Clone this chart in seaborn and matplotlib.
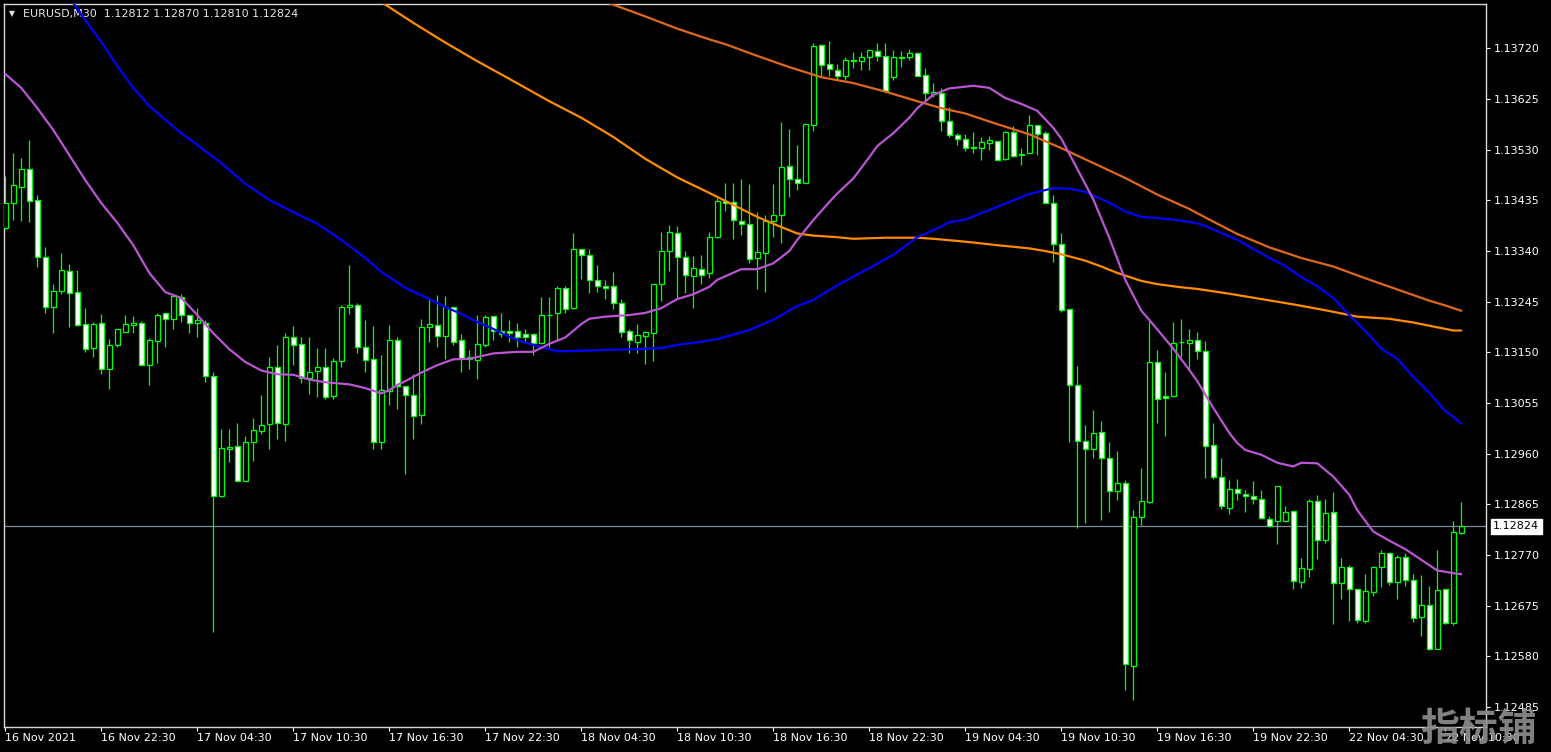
import numpy as np
import matplotlib
matplotlib.use("Agg")
import matplotlib.pyplot as plt
import matplotlib.transforms as mtransforms
import seaborn as sns

# ---------------- data ----------------
symbol = "EURUSD,M30"
header_values = "1.12812 1.12870 1.12810 1.12824"
last_price = 1.12824

open_ = [1.13384,1.13431,1.13461,1.13493,1.13435,1.13328,1.13236,1.13265,1.13302,1.13264,
         1.13203,1.13159,1.13205,1.13118,1.13164,1.13188,1.13201,1.13206,1.13126,1.13171,
         1.13223,1.13212,1.13254,1.13221,1.13206,1.13206,1.13105,1.12880,1.12968,1.12974,
         1.12909,1.12981,1.13002,1.13015,1.13122,1.13016,1.13178,1.13165,1.13102,1.13116,
         1.13122,1.13069,1.13133,1.13236,1.13238,1.13160,1.13137,1.12981,1.13077,1.13173,
         1.13087,1.13070,1.13032,1.13197,1.13201,1.13180,1.13235,1.13173,1.13137,1.13135,
         1.13163,1.13218,1.13190,1.13190,1.13190,1.13184,1.13184,1.13168,1.13221,1.13223,
         1.13270,1.13234,1.13343,1.13333,1.13286,1.13275,1.13275,1.13242,1.13190,1.13170,
         1.13181,1.13186,1.13278,1.13340,1.13373,1.13328,1.13294,1.13307,1.13298,1.13366,
         1.13433,1.13432,1.13397,1.13390,1.13327,1.13337,1.13397,1.13407,1.13499,1.13476,
         1.13467,1.13577,1.13726,1.13690,1.13680,1.13668,1.13698,1.13696,1.13703,1.13716,
         1.13705,1.13666,1.13703,1.13703,1.13711,1.13671,1.13634,1.13636,1.13583,1.13557,
         1.13550,1.13535,1.13534,1.13542,1.13547,1.13512,1.13563,1.13521,1.13523,1.13577,
         1.13561,1.13430,1.13353,1.13231,1.13089,1.12983,1.12968,1.13001,1.12951,1.12890,
         1.12905,1.12561,1.12841,1.12870,1.13132,1.13069,1.13069,1.13170,1.13168,1.13173,
         1.13152,1.12976,1.12916,1.12859,1.12893,1.12884,1.12880,1.12875,1.12837,1.12834,
         1.12834,1.12852,1.12719,1.12744,1.12871,1.12798,1.12851,1.12717,1.12748,1.12707,
         1.12647,1.12700,1.12747,1.12773,1.12719,1.12766,1.12723,1.12653,1.12677,1.12593,
         1.12707,1.12642,1.12812]
high = [1.13481,1.13524,1.13515,1.13548,1.13445,1.13348,1.13278,1.13336,1.13316,1.13304,
        1.13233,1.13207,1.13222,1.13175,1.13193,1.13220,1.13218,1.13209,1.13177,1.13223,
        1.13223,1.13256,1.13259,1.13221,1.13233,1.13210,1.13113,1.13006,1.13006,1.13018,
        1.12994,1.13027,1.13070,1.13141,1.13164,1.13186,1.13199,1.13179,1.13179,1.13158,
        1.13158,1.13139,1.13239,1.13314,1.13242,1.13211,1.13199,1.13145,1.13201,1.13179,
        1.13087,1.13109,1.13213,1.13252,1.13258,1.13256,1.13235,1.13184,1.13154,1.13221,
        1.13220,1.13218,1.13223,1.13211,1.13205,1.13193,1.13186,1.13254,1.13254,1.13275,
        1.13275,1.13373,1.13343,1.13343,1.13313,1.13285,1.13300,1.13250,1.13194,1.13203,
        1.13190,1.13278,1.13376,1.13389,1.13387,1.13341,1.13330,1.13332,1.13375,1.13440,
        1.13467,1.13467,1.13476,1.13465,1.13413,1.13407,1.13466,1.13582,1.13569,1.13539,
        1.13580,1.13730,1.13728,1.13733,1.13690,1.13703,1.13713,1.13713,1.13719,1.13730,
        1.13730,1.13717,1.13715,1.13718,1.13714,1.13683,1.13656,1.13645,1.13611,1.13561,
        1.13559,1.13563,1.13554,1.13556,1.13547,1.13566,1.13574,1.13534,1.13596,1.13577,
        1.13566,1.13445,1.13373,1.13231,1.13124,1.13013,1.13042,1.13021,1.12981,1.12965,
        1.12911,1.12854,1.12933,1.13208,1.13154,1.13113,1.13207,1.13213,1.13194,1.13188,
        1.13171,1.13018,1.12952,1.12911,1.12913,1.12892,1.12909,1.12892,1.12843,1.12899,
        1.12862,1.12852,1.12765,1.12875,1.12882,1.12875,1.12888,1.12764,1.12752,1.12707,
        1.12735,1.12749,1.12779,1.12775,1.12770,1.12773,1.12734,1.12732,1.12711,1.12779,
        1.12707,1.12834,1.12870]
low = [1.13381,1.13398,1.13397,1.13395,1.13310,1.13224,1.13187,1.13259,1.13198,1.13199,
       1.13151,1.13142,1.13110,1.13082,1.13160,1.13188,1.13187,1.13126,1.13088,1.13131,
       1.13161,1.13193,1.13207,1.13187,1.13179,1.13095,1.12626,1.12878,1.12944,1.12908,
       1.12909,1.12947,1.12997,1.12968,1.12988,1.12983,1.13126,1.13093,1.13071,1.13067,
       1.13062,1.13062,1.13122,1.13222,1.13149,1.13114,1.12969,1.12968,1.13051,1.13044,
       1.12922,1.12988,1.13015,1.13170,1.13161,1.13137,1.13164,1.13114,1.13119,1.13100,
       1.13160,1.13173,1.13178,1.13170,1.13161,1.13168,1.13145,1.13166,1.13161,1.13173,
       1.13223,1.13232,1.13288,1.13261,1.13264,1.13251,1.13232,1.13179,1.13149,1.13149,
       1.13128,1.13134,1.13247,1.13302,1.13250,1.13262,1.13233,1.13279,1.13290,1.13364,
       1.13416,1.13363,1.13371,1.13317,1.13269,1.13264,1.13367,1.13356,1.13442,1.13455,
       1.13467,1.13566,1.13667,1.13669,1.13661,1.13661,1.13684,1.13680,1.13680,1.13697,
       1.13640,1.13661,1.13686,1.13699,1.13668,1.13622,1.13629,1.13566,1.13553,1.13539,
       1.13528,1.13524,1.13511,1.13529,1.13510,1.13511,1.13516,1.13502,1.13523,1.13521,
       1.13430,1.13320,1.13225,1.12982,1.12820,1.12830,1.12952,1.12836,1.12850,1.12874,
       1.12516,1.12498,1.12826,1.12867,1.13017,1.12993,1.13067,1.13142,1.13117,1.13138,
       1.12914,1.12913,1.12857,1.12846,1.12873,1.12851,1.12866,1.12837,1.12822,1.12791,
       1.12832,1.12707,1.12709,1.12729,1.12762,1.12792,1.12640,1.12687,1.12647,1.12642,
       1.12642,1.12694,1.12710,1.12713,1.12687,1.12711,1.12644,1.12618,1.12591,1.12593,
       1.12640,1.12638,1.12810]
close = [1.13431,1.13463,1.13493,1.13433,1.13329,1.13236,1.13266,1.13304,1.13262,1.13202,
         1.13157,1.13203,1.13118,1.13163,1.13193,1.13203,1.13206,1.13127,1.13173,1.13221,
         1.13212,1.13256,1.13221,1.13206,1.13210,1.13105,1.12880,1.12970,1.12972,1.12909,
         1.12981,1.13004,1.13013,1.13122,1.13018,1.13178,1.13163,1.13102,1.13114,1.13122,
         1.13067,1.13133,1.13236,1.13239,1.13160,1.13135,1.12981,1.13079,1.13173,1.13087,
         1.13070,1.13030,1.13197,1.13203,1.13180,1.13235,1.13169,1.13139,1.13141,1.13165,
         1.13216,1.13191,1.13184,1.13187,1.13179,1.13179,1.13168,1.13221,1.13220,1.13270,
         1.13232,1.13343,1.13333,1.13286,1.13275,1.13270,1.13242,1.13188,1.13173,1.13182,
         1.13188,1.13278,1.13340,1.13375,1.13328,1.13296,1.13309,1.13296,1.13366,1.13433,
         1.13431,1.13399,1.13390,1.13326,1.13338,1.13397,1.13407,1.13497,1.13475,1.13467,
         1.13578,1.13724,1.13688,1.13681,1.13668,1.13698,1.13697,1.13703,1.13717,1.13705,
         1.13641,1.13703,1.13702,1.13711,1.13668,1.13636,1.13638,1.13583,1.13557,1.13550,
         1.13534,1.13534,1.13544,1.13549,1.13511,1.13563,1.13518,1.13522,1.13577,1.13560,
         1.13430,1.13354,1.13229,1.13089,1.12983,1.12968,1.12999,1.12951,1.12890,1.12905,
         1.12565,1.12842,1.12871,1.13132,1.13062,1.13065,1.13167,1.13169,1.13173,1.13152,
         1.12974,1.12917,1.12861,1.12893,1.12886,1.12880,1.12875,1.12839,1.12824,1.12899,
         1.12851,1.12721,1.12746,1.12871,1.12798,1.12848,1.12717,1.12748,1.12707,1.12649,
         1.12702,1.12747,1.12773,1.12719,1.12766,1.12724,1.12651,1.12677,1.12593,1.12705,
         1.12642,1.12813,1.12824]

# moving averages (bar index, value)
ma_orchid_bar = [0,2,4,6,10,12,14,16,18,20,22,24,26,28,30,32,34,36,38,40,43,45,47,48,49,
                 50,52,54,56,58,61,64,66,68,70,72,73,75,78,80,82,84,86,88,89,92,94,96,98,99,
                 101,103,104,106,108,109,111,113,114,116,118,121,123,125,127,129,131,132,134,136,
                 138,140,142,143,146,148,149,151,153,154,155,157,159,161,162,164,166,168,169,171,
                 173,175,177,179,181,182]
ma_orchid_val = [1.13672,1.13646,1.13608,1.13567,1.13473,1.13430,1.13393,1.13351,1.13299,1.13263,
                 1.13252,1.13220,1.13186,1.13156,1.13132,1.13116,1.13109,1.13108,1.13099,1.13094,
                 1.13090,1.13083,1.13073,1.13079,1.13089,1.13096,1.13112,1.13126,1.13137,1.13138,
                 1.13148,1.13151,1.13151,1.13166,1.13178,1.13203,1.13213,1.13217,1.13220,1.13224,
                 1.13233,1.13250,1.13259,1.13273,1.13286,1.13306,1.13306,1.13317,1.13340,1.13361,
                 1.13398,1.13432,1.13448,1.13476,1.13516,1.13537,1.13561,1.13590,1.13608,1.13633,
                 1.13645,1.13650,1.13646,1.13627,1.13616,1.13603,1.13571,1.13551,1.13494,1.13437,
                 1.13365,1.13286,1.13228,1.13211,1.13157,1.13117,1.13096,1.13046,1.12999,1.12980,
                 1.12967,1.12958,1.12943,1.12936,1.12943,1.12942,1.12917,1.12883,1.12854,1.12814,
                 1.12797,1.12781,1.12761,1.12741,1.12736,1.12734]

ma_blue_bar = [8,10,12,14,16,18,20,22,24,27,30,33,36,39,42,45,47,50,53,55,57,59,61,63,65,
               67,69,72,76,79,82,84,87,89,90,93,96,99,101,103,106,108,111,113,114,117,118,120,
               123,126,128,131,133,135,136,138,140,142,144,147,149,150,154,158,160,162,164,166,
               168,170,172,174,176,178,180,181,182]
ma_blue_val = [1.13816,1.13773,1.13732,1.13687,1.13646,1.13612,1.13586,1.13561,1.13539,1.13505,
               1.13466,1.13436,1.13413,1.13391,1.13361,1.13327,1.13301,1.13271,1.13250,1.13235,
               1.13222,1.13207,1.13194,1.13179,1.13168,1.13160,1.13152,1.13153,1.13155,1.13156,
               1.13158,1.13164,1.13170,1.13175,1.13179,1.13192,1.13211,1.13237,1.13248,1.13267,
               1.13292,1.13308,1.13333,1.13355,1.13366,1.13386,1.13394,1.13399,1.13417,1.13435,
               1.13447,1.13458,1.13457,1.13451,1.13444,1.13431,1.13414,1.13404,1.13402,1.13397,
               1.13392,1.13387,1.13361,1.13327,1.13312,1.13291,1.13274,1.13252,1.13220,1.13190,
               1.13157,1.13138,1.13104,1.13074,1.13040,1.13029,1.13016]

ma_orange_bar = [46,47,51,55,59,63,68,72,76,80,84,88,90,92,94,97,99,101,104,106,110,114,116,
                 119,121,124,128,130,132,135,137,139,142,144,147,149,153,157,161,165,169,173,
                 176,179,181,182]
ma_orange_val = [1.13816,1.13807,1.13768,1.13731,1.13696,1.13663,1.13621,1.13590,1.13554,1.13513,
                 1.13478,1.13449,1.13434,1.13419,1.13404,1.13385,1.13373,1.13369,1.13366,1.13363,
                 1.13365,1.13365,1.13363,1.13359,1.13356,1.13351,1.13345,1.13340,1.13334,1.13322,
                 1.13311,1.13299,1.13284,1.13278,1.13272,1.13269,1.13260,1.13250,1.13240,1.13229,
                 1.13217,1.13213,1.13206,1.13197,1.13191,1.13191]

ma_choc_bar = [74,76,80,84,88,90,94,98,102,106,110,114,117,120,124,128,132,136,140,144,
               148,150,154,158,162,166,170,174,178,180,182]
ma_choc_val = [1.13813,1.13802,1.13780,1.13757,1.13737,1.13728,1.13706,1.13685,1.13666,1.13655,
               1.13639,1.13621,1.13608,1.13598,1.13578,1.13559,1.13533,1.13505,1.13477,1.13446,
               1.13419,1.13403,1.13372,1.13347,1.13327,1.13311,1.13289,1.13268,1.13247,1.13238,
               1.13228]

tick_bars = [0,12,24,36,48,60,72,84,96,108,120,132,144,156,168,180]
tick_labels = ["16 Nov 2021","16 Nov 22:30","17 Nov 04:30","17 Nov 10:30","17 Nov 16:30",
               "17 Nov 22:30","18 Nov 04:30","18 Nov 10:30","18 Nov 16:30","18 Nov 22:30",
               "19 Nov 04:30","19 Nov 10:30","19 Nov 16:30","19 Nov 22:30","22 Nov 04:30",
               "22 Nov 10:30"]
price_ticks = [1.12485,1.12580,1.12675,1.12770,1.12865,1.12960,1.13055,1.13150,
               1.13245,1.13340,1.13435,1.13530,1.13625,1.13720]

# ---------------- style ----------------
sns.set_theme(style="dark", rc={"axes.facecolor": "black", "figure.facecolor": "black",
                                "axes.grid": False})
plt.rcParams['font.family'] = ['DejaVu Sans']

W, H = 1551, 752
fig = plt.figure(figsize=(W / 100, H / 100), dpi=100)
fig.patch.set_facecolor("black")
ax = fig.add_axes([4 / W, 25 / H, 1482 / W, 723 / H])
ax.set_facecolor("black")

o = np.array(open_); h = np.array(high); l = np.array(low); c = np.array(close)
bars = np.arange(len(o))
up = c >= o
bottom = np.minimum(o, c)
height = np.maximum(np.abs(c - o), 0.000004)

green = "#00FF00"
# current price line
ax.axhline(last_price, color="#7d8a9c", lw=0.9, zorder=1.5)
# wicks
ax.vlines(bars, l, h, color=green, lw=0.9, zorder=2)
# bodies
ax.bar(bars[up], height[up], bottom=bottom[up], width=0.6, facecolor="black",
       edgecolor=green, linewidth=0.9, zorder=3)
ax.bar(bars[~up], height[~up], bottom=bottom[~up], width=0.6, facecolor="white",
       edgecolor=green, linewidth=0.9, zorder=3)

# moving averages
sns.lineplot(x=ma_choc_bar, y=ma_choc_val, ax=ax, color="#E0681E", lw=1.6, zorder=4)
sns.lineplot(x=ma_orange_bar, y=ma_orange_val, ax=ax, color="#FF8C00", lw=1.6, zorder=4)
sns.lineplot(x=ma_blue_bar, y=ma_blue_val, ax=ax, color="#0000FF", lw=1.6, zorder=4)
sns.lineplot(x=ma_orchid_bar, y=ma_orchid_val, ax=ax, color="#BA55D3", lw=1.6, zorder=4)

ax.set_xlim(-0.1625, 185.09)
ax.set_ylim(1.1244746, 1.138033)

# axes styling
for s in ax.spines.values():
    s.set_color("#d8d8d8")
    s.set_linewidth(1.0)
    s.set_visible(True)

ax.set_xticks(tick_bars)
ax.set_xticklabels(tick_labels, ha="left")
ax.yaxis.tick_right()
ax.set_yticks(price_ticks)
ax.set_yticklabels([f"{p:.5f}" for p in price_ticks])
ax.tick_params(axis="x", colors="white", labelcolor="white", labelsize=8,
               length=3, width=0.8, pad=1.5, direction="out", bottom=True)
ax.tick_params(axis="y", colors="white", labelcolor="white", labelsize=8,
               length=3, width=0.8, pad=2.5, direction="out", right=True, left=False)
ax.set_xlabel("")
ax.set_ylabel("")

# header
ax.text(0.0055, 0.9868, "\u25BC", transform=ax.transAxes, color="#e8e8e8",
        fontsize=5.5, va="center", ha="center", zorder=1)
ax.text(0.0128, 0.9868, f"{symbol}  {header_values}", transform=ax.transAxes,
        color="#e8e8e8", fontsize=8, va="center", ha="left", zorder=1)

# current price label
trans = mtransforms.blended_transform_factory(ax.transAxes, ax.transData)
ax.text(1.0 + 7 / 1482, last_price, f"{last_price:.5f}", transform=trans, color="black",
        fontsize=8, va="center", ha="left", clip_on=False, zorder=6,
        bbox=dict(boxstyle="square,pad=0.22", facecolor="white", edgecolor="white"))

# watermark
fig.text(1420 / W, 1 - 729 / H, "指标铺", color="#8f8f8f", fontsize=28,
         fontweight="bold", ha="left", va="center", alpha=0.9,
         family=["Noto Sans CJK SC", "DejaVu Sans"])

fig.savefig("out.png", dpi=100, facecolor="black")
